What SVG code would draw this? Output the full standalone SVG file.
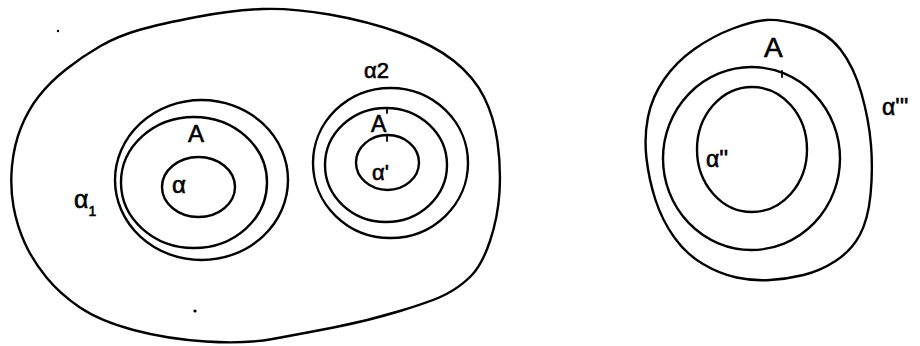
<svg xmlns="http://www.w3.org/2000/svg" width="920" height="346" viewBox="0 0 920 346">
<style>
.c{fill:none;stroke:#000;stroke-width:2.4;stroke-linejoin:round;stroke-linecap:round}
.t{fill:none;stroke:#000;stroke-width:1.8;stroke-linecap:round}
.l{font-family:"Liberation Sans","DejaVu Sans",sans-serif;fill:#000;stroke:#000;stroke-width:0.6}
</style>
<rect width="920" height="346" fill="#fff"/>
<g id="outer-left">
<path class="c" d="M 12,166 Q 14,145 21,127.5 Q 28,110 39,96 Q 50,82 66.5,69 Q 83,56 100.5,46 Q 118,36 139,30 Q 160,24 196.5,17 Q 233,10 262.5,9 Q 292,8 329.5,14.5 Q 367,21 400.5,33 Q 434,45 454,61 Q 474,77 484,97 Q 494,117 497.5,142 Q 501,167 499.5,192 Q 498,217 490,241 Q 482,265 471,276 Q 460,287 446.5,294 Q 433,301 400,311 Q 367,321 333.5,327.5 Q 300,334 272.5,339 Q 245,344 206,341.5 Q 167,339 133.5,330 Q 100,321 80,307.5 Q 60,294 46.5,277.5 Q 33,261 25,243.5 Q 17,226 13.5,206.5 Q 10,187 12,166 Z"/>
<circle cx="58" cy="31" r="1.2" fill="#000"/>
<circle cx="195" cy="311" r="1.6" fill="#000"/>
</g>
<g id="group-alpha1">
<ellipse class="c" cx="201.5" cy="180" rx="86.5" ry="80"/>
<ellipse class="c" cx="194" cy="182.5" rx="73" ry="65.5"/>
<ellipse class="c" cx="198.5" cy="187" rx="36.5" ry="30"/>
<text class="l" x="74" y="208" font-size="25">α<tspan font-size="14" dy="8">1</tspan></text>
<text class="l" x="188" y="142" font-size="24">A</text>
<text class="l" x="172" y="193" font-size="24">α</text>
</g>
<g id="group-alpha2">
<ellipse class="c" cx="390.5" cy="163" rx="77.5" ry="75"/>
<ellipse class="c" cx="386" cy="165" rx="61" ry="57"/>
<ellipse class="c" cx="387.5" cy="162.5" rx="31.5" ry="27.5"/>
<path class="t" d="M 387,108 L 387,113 M 387,135 L 387,141"/>
<text class="l" x="364" y="78" font-size="22">α2</text>
<text class="l" x="371" y="132" font-size="23">A</text>
<text class="l" x="372" y="180" font-size="22">α'</text>
</g>
<g id="group-alpha3">
<path class="c" d="M 766.5,20 Q 780,19 803.5,25.5 Q 827,32 840.5,49.5 Q 854,67 861.5,93.5 Q 869,120 871,145 Q 873,170 870.5,195 Q 868,220 859.5,235.5 Q 851,251 835.5,261 Q 820,271 803.5,275 Q 787,279 770,280 Q 753,281 736.5,277.5 Q 720,274 703,264 Q 686,254 674,237 Q 662,220 655.5,200 Q 649,180 646.5,158.5 Q 644,137 648,117 Q 652,97 664,79.5 Q 676,62 694.5,49 Q 713,36 733,28.5 Q 753,21 766.5,20 Z"/>
<ellipse class="c" cx="751.5" cy="158.5" rx="88.5" ry="91.5"/>
<ellipse class="c" cx="752" cy="149.5" rx="55" ry="62.5"/>
<path class="t" d="M 782,71 L 782,77"/>
<text class="l" x="764" y="57" font-size="28">A</text>
<text class="l" x="706" y="167" font-size="23">α''</text>
<text class="l" x="882" y="115" font-size="23">α'''</text>
</g>
<g id="connectors"/>
</svg>
